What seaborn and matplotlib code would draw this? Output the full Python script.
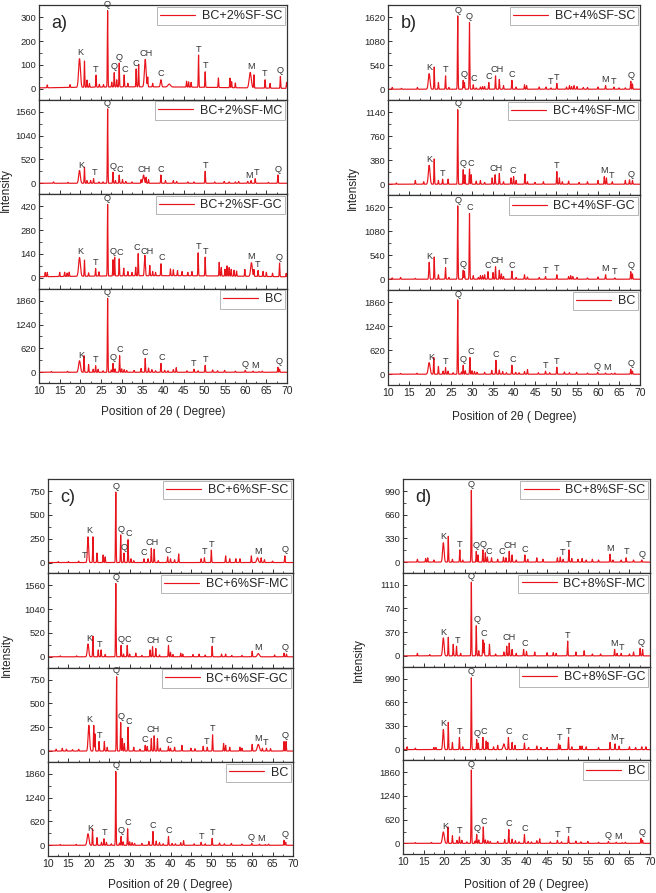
import matplotlib
matplotlib.use("Agg")
import matplotlib.pyplot as plt
from matplotlib.ticker import MultipleLocator, AutoMinorLocator
import seaborn as sns
import pandas as pd
import numpy as np

RED = "#e8141c"
GRID = np.arange(10.0, 70.0001, 0.02)

# peak lists: (2θ, intensity[, sigma in degrees])
bc_peaks = [(13.0, 20), (16.9, 25), (19.8, 300, 0.22), (20.9, 430), (22.0, 200), (23.1, 80),
            (23.7, 170), (24.3, 80), (25.5, 40), (26.6, 1920), (27.5, 60), (27.9, 230),
            (28.4, 90), (29.5, 430), (30.0, 90), (30.6, 70), (31.2, 50), (33.0, 50),
            (34.7, 100), (35.7, 360), (36.5, 110), (37.3, 70), (38.2, 40), (39.5, 230),
            (40.4, 50), (41.2, 40), (42.5, 70), (43.2, 120), (45.8, 40), (47.5, 80),
            (48.5, 40), (50.2, 180), (52.0, 60), (53.2, 40), (54.9, 50), (57.5, 30),
            (59.9, 50), (61.8, 30), (63.2, 20), (64.0, 30), (67.8, 130), (68.2, 80)]
bc_labels = [(20.3, "K"), (23.8, "T"), (26.6, "Q"), (27.9, "Q"), (29.6, "C"), (35.6, "C"),
             (39.6, "C"), (47.5, "T"), (50.2, "T"), (59.8, "Q"), (62.2, "M"), (68.0, "Q")]

a_sc_peaks = [(35.0, 8, 20), (10.0, 15), (12.0, 12), (17.5, 12), (19.8, 120, 0.22), (21.0, 110),
              (21.6, 30), (22.2, 15), (23.8, 50), (24.6, 12), (25.6, 10), (26.6, 320), (27.6, 20),
              (28.2, 60), (28.8, 30), (29.4, 100), (30.6, 50), (31.5, 15), (33.5, 75), (34.1, 95),
              (35.7, 115, 0.2), (36.3, 40), (37.5, 15), (39.5, 30, 0.15), (41.5, 12, 0.3),
              (45.7, 25), (46.2, 22), (46.8, 20), (48.6, 135), (50.2, 65), (53.4, 40), (56.2, 40),
              (56.6, 25), (57.5, 20), (61.1, 65, 0.25), (62.0, 55), (64.7, 35), (65.9, 20),
              (68.4, 50), (69.9, 25)]
a_sc_labels = [(19.9, "K"), (23.8, "T"), (26.6, "Q"), (28.1, "Q"), (29.4, "Q"), (30.7, "C"),
               (33.4, "C"), (35.8, "CH"), (39.5, "C"), (48.6, "T"), (50.2, "T"), (61.2, "M"),
               (64.7, "T"), (68.4, "Q")]

a_mc_peaks = [(10.0, 50), (13.5, 30), (17.0, 20), (19.8, 280, 0.2), (21.0, 350), (21.6, 60),
              (22.5, 60), (23.2, 100), (24.5, 30), (25.5, 30), (26.6, 1620), (27.9, 240),
              (28.5, 60), (29.4, 180), (30.2, 80), (31.0, 40), (32.5, 30), (34.7, 80),
              (35.3, 180, 0.18), (35.9, 130), (36.5, 80), (39.5, 180), (40.6, 60), (42.5, 60),
              (43.3, 40), (46.0, 30), (47.5, 30), (50.2, 260), (52.5, 30), (54.8, 40), (56.0, 30),
              (57.5, 30), (58.3, 40), (60.5, 40), (61.3, 60), (62.3, 100), (65.5, 20), (67.8, 180)]
a_mc_labels = [(20.3, "K"), (23.4, "T"), (26.6, "Q"), (27.9, "Q"), (29.5, "C"), (35.5, "CH"),
               (39.5, "C"), (50.2, "T"), (60.8, "M"), (62.6, "T"), (67.8, "Q")]

a_gc_peaks = [(40.0, 12, 25), (11.5, 25), (12.0, 25), (15.0, 25), (16.2, 25), (16.8, 20),
              (17.3, 25), (19.8, 110, 0.22), (21.0, 95), (22.0, 20), (23.7, 45), (24.5, 25),
              (26.6, 420), (27.9, 95), (28.3, 110), (29.4, 100), (30.5, 45), (31.5, 25),
              (32.5, 20), (33.4, 50), (34.0, 130), (35.6, 120, 0.12), (36.8, 60), (37.5, 25),
              (38.2, 20), (39.5, 70), (41.8, 40), (42.5, 35), (43.5, 30), (44.6, 25), (46.0, 20),
              (47.0, 25), (48.5, 135), (50.2, 110), (53.6, 80), (54.1, 50), (55.0, 40),
              (55.5, 60), (56.0, 50), (56.5, 40), (57.2, 35), (57.8, 30), (59.8, 40),
              (61.4, 80, 0.2), (62.0, 40), (63.0, 35), (64.2, 30), (65.0, 25), (66.5, 20),
              (68.2, 80), (69.8, 20)]
a_gc_labels = [(19.9, "K"), (23.7, "T"), (26.6, "Q"), (27.9, "Q"), (29.5, "C"), (33.6, "C"),
               (36.1, "CH"), (39.6, "C"), (48.5, "T"), (50.2, "T"), (61.4, "M"), (63.0, "T"),
               (68.2, "Q")]

b_sc_peaks = [(11.0, 40), (13.2, 20), (17.0, 40), (19.8, 350, 0.2), (21.0, 500), (22.0, 150),
              (23.7, 300), (24.5, 40), (26.6, 1650), (27.9, 200), (28.2, 150), (29.4, 1500),
              (30.3, 100), (31.0, 30), (32.0, 50), (32.5, 60), (33.0, 60), (34.0, 150),
              (35.6, 300), (36.5, 220), (37.5, 80), (39.5, 200), (40.5, 50), (42.5, 100),
              (43.0, 80), (46.0, 50), (47.6, 50), (48.8, 30), (50.2, 130), (52.5, 50),
              (53.2, 80), (53.7, 60), (54.3, 80), (55.0, 60), (56.5, 40), (57.5, 40), (60.0, 50),
              (61.8, 80), (63.8, 50), (65.0, 30), (66.5, 30), (67.8, 180), (68.2, 120)]
b_sc_labels = [(19.8, "K"), (23.7, "T"), (26.6, "Q"), (28.1, "Q"), (29.4, "Q"), (30.5, "C"),
               (33.9, "C"), (35.9, "CH"), (39.5, "C"), (48.6, "T"), (50.2, "T"), (61.8, "M"),
               (63.8, "T"), (68.0, "Q")]

b_mc_peaks = [(12.0, 20), (16.5, 60), (18.5, 40), (19.8, 300, 0.2), (21.0, 400), (22.0, 60),
              (23.0, 80), (24.3, 80), (26.6, 1180), (27.9, 230), (28.3, 150), (29.4, 240),
              (29.8, 150), (31.0, 50), (32.0, 60), (33.0, 30), (34.8, 100), (35.5, 150),
              (36.5, 170), (37.5, 40), (39.3, 100), (39.9, 120), (40.5, 60), (42.6, 160),
              (43.2, 40), (45.0, 30), (47.0, 40), (50.2, 200), (50.8, 100), (51.5, 40),
              (53.0, 50), (55.5, 30), (57.5, 40), (60.0, 60), (61.5, 120), (62.0, 100),
              (63.4, 40), (66.5, 60), (67.5, 70), (68.2, 60)]
b_mc_labels = [(19.8, "K"), (23.0, "T"), (26.6, "Q"), (27.9, "Q"), (29.6, "C"), (35.8, "CH"),
               (39.6, "C"), (50.2, "T"), (61.4, "M"), (63.2, "T"), (68.0, "Q")]

b_gc_peaks = [(11.0, 30), (13.0, 40), (16.5, 20), (19.8, 380, 0.1), (21.0, 500), (22.0, 100),
              (23.7, 260), (24.5, 40), (26.6, 1650), (27.9, 200), (28.2, 180), (29.4, 1480),
              (30.3, 80), (31.5, 40), (32.0, 80), (32.5, 80), (33.0, 100), (33.8, 170),
              (35.0, 150), (35.6, 280), (36.5, 200), (37.0, 120), (37.5, 60), (39.5, 180),
              (40.5, 40), (42.5, 100), (43.2, 50), (46.0, 40), (47.5, 60), (50.2, 100),
              (53.0, 60), (53.5, 80), (54.0, 60), (55.0, 40), (57.5, 30), (60.0, 50),
              (61.8, 100), (64.0, 30), (67.8, 170), (68.2, 120)]
b_gc_labels = [(19.8, "K"), (23.7, "T"), (26.6, "Q"), (28.0, "Q"), (29.4, "C"), (33.7, "C"),
               (35.9, "CH"), (39.5, "C"), (47.6, "T"), (50.2, "T"), (61.7, "M"), (63.9, "T"),
               (68.0, "Q")]

c_sc_peaks = [(10.0, 140, 0.05), (12.5, 10), (15.0, 10), (17.5, 15), (19.8, 270, 0.15),
              (21.0, 270), (22.0, 100), (23.5, 80), (24.0, 60), (26.6, 740), (27.8, 290),
              (28.6, 100), (29.6, 240), (30.3, 40), (31.0, 20), (33.5, 40), (34.5, 40),
              (35.3, 150), (36.0, 140), (37.0, 20), (39.3, 60), (40.0, 40), (41.0, 30),
              (42.0, 90), (47.5, 40), (48.3, 50), (50.0, 130), (53.5, 70), (54.5, 40),
              (56.0, 40), (57.0, 40), (59.8, 70), (61.3, 50, 0.2), (62.2, 50), (63.0, 30),
              (65.0, 15), (68.0, 70)]
c_sc_labels = [(19.0, "T"), (20.0, "K"), (26.6, "Q"), (27.8, "Q"), (28.7, "Q"), (29.8, "C"),
               (33.5, "C"), (35.6, "CH"), (39.4, "C"), (48.4, "T"), (50.0, "T"), (61.5, "M"),
               (68.0, "Q")]

c_mc_peaks = [(10.0, 50, 0.05), (13.0, 20), (17.0, 20), (19.8, 280, 0.18), (21.0, 450),
              (22.3, 150), (23.0, 150), (24.0, 50), (26.6, 1600), (27.9, 250), (28.5, 60),
              (29.4, 250), (30.0, 60), (31.5, 80), (33.0, 30), (35.0, 150), (35.6, 220),
              (36.4, 180), (37.3, 40), (39.5, 250), (40.0, 100), (40.6, 50), (42.5, 80),
              (43.0, 60), (45.5, 50), (47.0, 60), (48.5, 40), (50.2, 230), (52.5, 60),
              (53.5, 60), (55.0, 30), (57.5, 30), (60.0, 120), (61.5, 70, 0.25), (65.5, 40),
              (67.8, 80), (68.4, 60)]
c_mc_labels = [(20.0, "K"), (22.7, "T"), (26.6, "Q"), (27.8, "Q"), (29.5, "C"), (35.7, "CH"),
               (39.5, "C"), (50.2, "T"), (61.5, "M"), (68.0, "Q")]

c_gc_peaks = [(10.0, 150, 0.05), (12.0, 20), (13.5, 30), (14.5, 20), (16.0, 15), (17.5, 20),
              (20.0, 270, 0.18), (21.2, 270), (21.5, 180), (22.5, 100), (23.8, 100), (24.5, 40),
              (26.8, 780), (27.8, 300), (28.2, 130), (28.7, 80), (29.6, 250), (31.0, 40),
              (32.5, 20), (33.8, 60), (34.3, 50), (35.3, 130), (36.0, 160), (36.8, 130),
              (37.5, 30), (39.5, 50), (40.0, 30), (41.0, 40), (42.8, 60), (45.0, 30), (46.0, 25),
              (48.0, 50), (49.0, 40), (50.3, 170), (53.0, 80), (53.5, 60), (54.5, 40), (57.0, 40),
              (57.5, 30), (60.0, 70), (61.5, 70, 0.25), (62.5, 30), (63.5, 30), (64.5, 25),
              (67.8, 100), (68.3, 100)]
c_gc_labels = [(20.0, "K"), (22.6, "T"), (26.8, "Q"), (27.8, "Q"), (29.7, "C"), (33.7, "C"),
               (35.8, "CH"), (39.6, "C"), (48.8, "T"), (50.3, "T"), (61.4, "M"), (63.3, "T"),
               (68.0, "Q")]

d_sc_peaks = [(10.0, 560, 0.05), (13.5, 40), (15.5, 50), (16.0, 60), (17.5, 30), (19.8, 270, 0.18),
              (21.0, 360), (22.0, 40), (23.8, 170), (24.5, 30), (26.6, 1000), (27.8, 150),
              (28.2, 100), (29.4, 170), (30.0, 130), (30.5, 70), (31.5, 60), (33.0, 40),
              (34.4, 70), (35.0, 60), (35.8, 150), (36.5, 100), (37.5, 30), (39.6, 100),
              (40.3, 40), (42.5, 60), (44.0, 40), (47.5, 60), (48.2, 70), (48.9, 40), (50.3, 170),
              (51.0, 50), (52.5, 40), (53.5, 50), (54.5, 30), (56.0, 40), (57.5, 30), (60.3, 110),
              (61.0, 30), (63.0, 30), (64.2, 60), (66.0, 30), (68.0, 30)]
d_sc_labels = [(19.8, "K"), (23.8, "T"), (26.6, "Q"), (27.8, "Q"), (29.4, "Q"), (30.9, "C"),
               (34.0, "C"), (36.1, "CH"), (39.6, "C"), (48.7, "T"), (50.3, "T"), (60.3, "M"),
               (64.2, "T"), (68.0, "Q")]

d_mc_peaks = [(10.0, 20), (13.5, 40), (16.5, 20), (19.8, 280, 0.18), (21.0, 290), (22.2, 180),
              (23.0, 150), (24.0, 40), (26.6, 1150), (27.8, 470), (28.4, 80), (29.4, 250),
              (29.7, 200), (31.0, 180), (32.5, 30), (34.5, 60), (35.2, 150), (35.8, 200),
              (36.5, 100), (37.5, 40), (39.3, 100), (40.0, 70), (42.0, 60), (45.0, 50),
              (46.5, 50), (47.2, 40), (50.0, 230), (52.0, 60), (54.0, 80), (56.0, 30), (58.0, 30),
              (61.4, 100), (62.0, 40), (63.0, 40), (65.0, 30), (66.0, 60), (67.6, 120), (68.2, 100)]
d_mc_labels = [(19.8, "K"), (23.3, "T"), (26.6, "Q"), (27.9, "Q"), (29.6, "C"), (35.7, "CH"),
               (39.6, "C"), (50.0, "T"), (61.2, "M"), (63.1, "T"), (67.9, "Q")]

d_gc_peaks = [(10.0, 560, 0.05), (11.0, 40), (13.0, 20), (17.5, 30), (18.0, 30), (19.8, 280, 0.15),
              (21.0, 380), (22.0, 100), (23.7, 170), (24.5, 40), (26.6, 1000), (27.9, 140),
              (28.3, 90), (29.4, 170), (30.2, 120), (30.6, 100), (32.0, 40), (33.0, 60),
              (34.5, 80, 0.2), (35.6, 170), (36.5, 100), (37.2, 60), (39.5, 90), (40.5, 30),
              (42.5, 50), (43.5, 30), (45.0, 30), (47.8, 80), (48.2, 60), (50.2, 170), (51.0, 40),
              (53.0, 50), (53.5, 50), (54.5, 40), (57.5, 30), (60.3, 100), (61.5, 80), (62.5, 50),
              (65.0, 40), (66.5, 30), (68.0, 40), (69.0, 40)]
d_gc_labels = [(19.8, "K"), (23.7, "T"), (26.6, "Q"), (28.0, "Q"), (29.6, "C"), (35.6, "C"),
               (39.7, "C"), (48.0, "T"), (50.2, "T"), (61.3, "M"), (63.0, "T")]

# panel -> list of (legend name, peaks, labels, top y tick)
panels = {
    "a": [("BC+2%SF-SC", a_sc_peaks, a_sc_labels, 300),
          ("BC+2%SF-MC", a_mc_peaks, a_mc_labels, 1560),
          ("BC+2%SF-GC", a_gc_peaks, a_gc_labels, 420),
          ("BC", bc_peaks, bc_labels, 1860)],
    "b": [("BC+4%SF-SC", b_sc_peaks, b_sc_labels, 1620),
          ("BC+4%SF-MC", b_mc_peaks, b_mc_labels, 1140),
          ("BC+4%SF-GC", b_gc_peaks, b_gc_labels, 1620),
          ("BC", bc_peaks, bc_labels, 1860)],
    "c": [("BC+6%SF-SC", c_sc_peaks, c_sc_labels, 750),
          ("BC+6%SF-MC", c_mc_peaks, c_mc_labels, 1560),
          ("BC+6%SF-GC", c_gc_peaks, c_gc_labels, 750),
          ("BC", bc_peaks, bc_labels, 1860)],
    "d": [("BC+8%SF-SC", d_sc_peaks, d_sc_labels, 990),
          ("BC+8%SF-MC", d_mc_peaks, d_mc_labels, 1110),
          ("BC+8%SF-GC", d_gc_peaks, d_gc_labels, 990),
          ("BC", bc_peaks, bc_labels, 1860)],
}

# pixel boxes (left, right, top, bottom) of each stacked panel, ylabel / xlabel anchors
W, H = 656, 893
boxes = {"a": (39, 287, 5, 383), "b": (388, 640, 5, 385),
         "c": (48, 293, 479, 856), "d": (403, 650, 479, 854)}
ylabel_xy = {"a": (6, 190), "b": (353, 188), "c": (7, 655), "d": (359, 660)}
xlabel_xy = {"a": (163, 412), "b": (514, 417), "c": (170, 885), "d": (526, 885)}


def pattern(peaks):
    y = np.zeros_like(GRID)
    for pk in peaks:
        w = pk[2] if len(pk) > 2 else 0.07
        y += pk[1] * np.exp(-0.5 * ((GRID - pk[0]) / w) ** 2)
    return y


sns.set_theme(style="ticks")
plt.rcParams["font.family"] = ["Liberation Sans", "DejaVu Sans"]
plt.rcParams["axes.edgecolor"] = "#333333"
plt.rcParams["axes.linewidth"] = 0.9

fig = plt.figure(figsize=(W / 100, H / 100), dpi=100)

for key, traces in panels.items():
    left, right, top, bottom = boxes[key]
    h = (bottom - top) / 4
    for i, (name, peaks, labels, ymax) in enumerate(traces):
        y0 = top + (i + 1) * h
        ax = fig.add_axes([left / W, 1 - y0 / H, (right - left) / W, h / H])
        df = pd.DataFrame({"two_theta": GRID, "intensity": pattern(peaks)})
        sns.lineplot(data=df, x="two_theta", y="intensity", ax=ax, color=RED,
                     lw=0.85, label=name, estimator=None, sort=False)
        ax.set_xlim(10, 70)
        ax.set_ylim(-0.15 * ymax, 1.17 * ymax)
        ax.set_yticks(np.linspace(0, ymax, 4))
        ax.yaxis.set_minor_locator(AutoMinorLocator(2))
        ax.xaxis.set_major_locator(MultipleLocator(5))
        ax.xaxis.set_minor_locator(MultipleLocator(2.5))
        ax.tick_params(which="both", direction="in", color="#333333")
        ax.tick_params(which="major", length=3, width=0.7)
        ax.tick_params(which="minor", length=1.8, width=0.6)
        ax.tick_params(axis="y", labelsize=6.8, pad=2)
        ax.tick_params(axis="x", labelsize=7.5, pad=2.5)
        ax.set_xlabel("")
        ax.set_ylabel("")
        if i < 3:
            ax.set_xticklabels([])
        for pos, txt in labels:
            win = (GRID > pos - 0.45) & (GRID < pos + 0.45)
            ax.annotate(txt, (pos, df["intensity"][win].max()), xytext=(0, 1),
                        textcoords="offset points", ha="center", va="bottom",
                        fontsize=6.6, color="#333333", annotation_clip=False)
        leg = ax.legend(loc="upper right", fontsize=9, frameon=True, fancybox=False,
                        framealpha=1, edgecolor="#aaaaaa", borderaxespad=0.15,
                        borderpad=0.25, handlelength=2.8, handletextpad=0.5)
        leg.get_frame().set_linewidth(0.6)
        if i == 0:
            ax.text(0.05, 0.8, f"{key})", transform=ax.transAxes, fontsize=13,
                    va="center", ha="left")

    fig.text(ylabel_xy[key][0] / W, 1 - ylabel_xy[key][1] / H, "Intensity",
             rotation=90, ha="center", va="center", fontsize=8.5)
    fig.text(xlabel_xy[key][0] / W, 1 - xlabel_xy[key][1] / H,
             "Position of 2θ ( Degree)", ha="center", va="center", fontsize=8.5)

fig.savefig("out.png", dpi=100)
